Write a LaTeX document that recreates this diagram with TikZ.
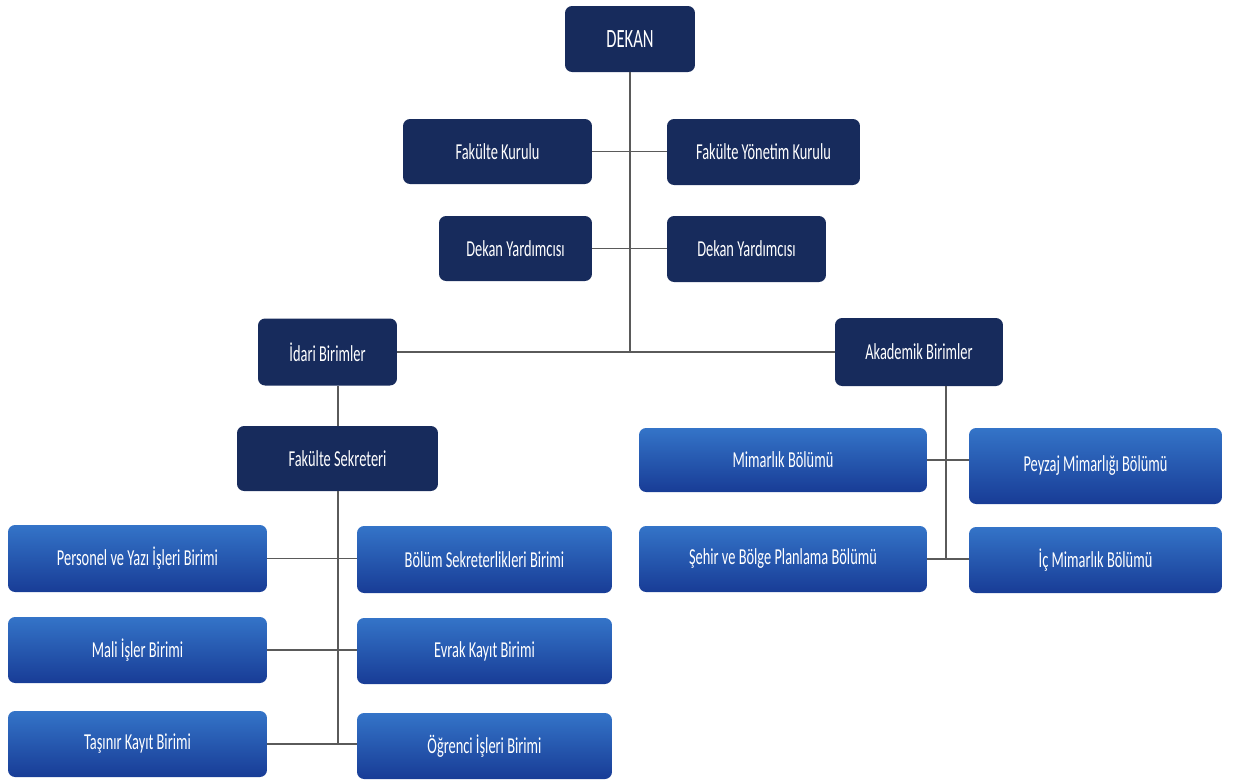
\documentclass[tikz,border=0pt]{standalone}
\usepackage{fontspec}
\setmainfont{Carlito}[FakeStretch=0.63]
\definecolor{navy}{HTML}{172B5C}
\definecolor{bluetop}{HTML}{3474C8}
\definecolor{bluebot}{HTML}{183C96}
\definecolor{linegray}{HTML}{5A5A5A}
\tikzset{
  navybox/.style={rectangle,rounded corners=4pt,fill=navy,text=white,
    font=\fontsize{13}{15}\selectfont,inner sep=0pt},
  bluebox/.style={rectangle,rounded corners=4pt,top color=bluetop,bottom color=bluebot,
    text=white,font=\fontsize{13}{15}\selectfont,inner sep=0pt},
  link/.style={draw=linegray,line width=0.9pt}
}
\begin{document}
\begin{tikzpicture}[x=0.02cm,y=-0.02cm]
	\useasboundingbox (0,0) rectangle (1234,779);
	\node[navybox,minimum width=2.6cm,minimum height=1.32cm,font=\fontsize{15}{17}\selectfont] at (630,39) (dekan) {DEKAN};
	
	\node[navybox,minimum width=3.78cm,minimum height=1.3cm] at (497.5,151.5) (fkurul) {Fakülte Kurulu};
	\node[navybox,minimum width=3.86cm,minimum height=1.32cm] at (763.5,152) (fyonetim) {Fakülte Yönetim Kurulu};
	
	\node[navybox,minimum width=3.06cm,minimum height=1.3cm] at (515.5,248.5) (yard1) {Dekan Yardımcısı};
	\node[navybox,minimum width=3.18cm,minimum height=1.32cm] at (746.5,249) (yard2) {Dekan Yardımcısı};
	
	\node[navybox,minimum width=2.78cm,minimum height=1.34cm] at (327.5,352) (idari) {İdari Birimler};
	\node[navybox,minimum width=3.36cm,minimum height=1.36cm] at (919,352) (akad) {Akademik Birimler};
	
	\node[navybox,minimum width=4.02cm,minimum height=1.3cm] at (337.5,458.5) (sekr) {Fakülte Sekreteri};
	
	% idari birimler
	\node[bluebox,minimum width=5.18cm,minimum height=1.34cm] at (137.5,558.5) (personel) {Personel ve Yazı İşleri Birimi};
	\node[bluebox,minimum width=5.1cm,minimum height=1.34cm]  at (484.5,559.5) (bolsekr)  {Bölüm Sekreterlikleri Birimi};
	\node[bluebox,minimum width=5.18cm,minimum height=1.32cm] at (137.5,650)   (mali)     {Mali İşler Birimi};
	\node[bluebox,minimum width=5.1cm,minimum height=1.32cm]  at (484.5,651)   (evrak)    {Evrak Kayıt Birimi};
	\node[bluebox,minimum width=5.18cm,minimum height=1.32cm] at (137.5,744)   (tasinir)  {Taşınır Kayıt Birimi};
	\node[bluebox,minimum width=5.1cm,minimum height=1.32cm]  at (484.5,746)   (ogrenci)  {Öğrenci İşleri Birimi};
	
	% akademik birimler
	\node[bluebox,minimum width=5.76cm,minimum height=1.28cm] at (783,460)    (mimar)  {Mimarlık Bölümü};
	\node[bluebox,minimum width=5.06cm,minimum height=1.52cm] at (1095.5,466) (peyzaj) {Peyzaj Mimarlığı Bölümü};
	\node[bluebox,minimum width=5.76cm,minimum height=1.32cm] at (783,559)    (sehir)  {Şehir ve Bölge Planlama Bölümü};
	\node[bluebox,minimum width=5.06cm,minimum height=1.32cm] at (1095.5,560) (icmimar) {İç Mimarlık Bölümü};
	
	\coordinate (dmid) at (630,352);
	\coordinate (imid) at (338,745);
	\coordinate (amid) at (946,560);
	
	% draw edges
	\draw[link] (dekan.south) -- (dmid);
	\draw[link] (idari.east) -- (idari.east -| akad.west);
	\draw[link] (fkurul.east) -- (fkurul.east -| fyonetim.west);
	\draw[link] (yard1.east) -- (yard1.east -| yard2.west);
	
	\draw[link] (idari.south -| imid) -- (sekr.north -| imid);
	\draw[link] (sekr.south -| imid) -- (imid);
	\draw[link] (personel.east) -- (personel.east -| bolsekr.west);
	\draw[link] (mali.east) -- (mali.east -| evrak.west);
	\draw[link] (tasinir.east) -- (tasinir.east -| ogrenci.west);
	
	\draw[link] (akad.south -| amid) -- (amid);
	\draw[link] (mimar.east) -- (mimar.east -| peyzaj.west);
	\draw[link] (sehir.east) -- (sehir.east -| icmimar.west);
	
\end{tikzpicture}
\end{document}
